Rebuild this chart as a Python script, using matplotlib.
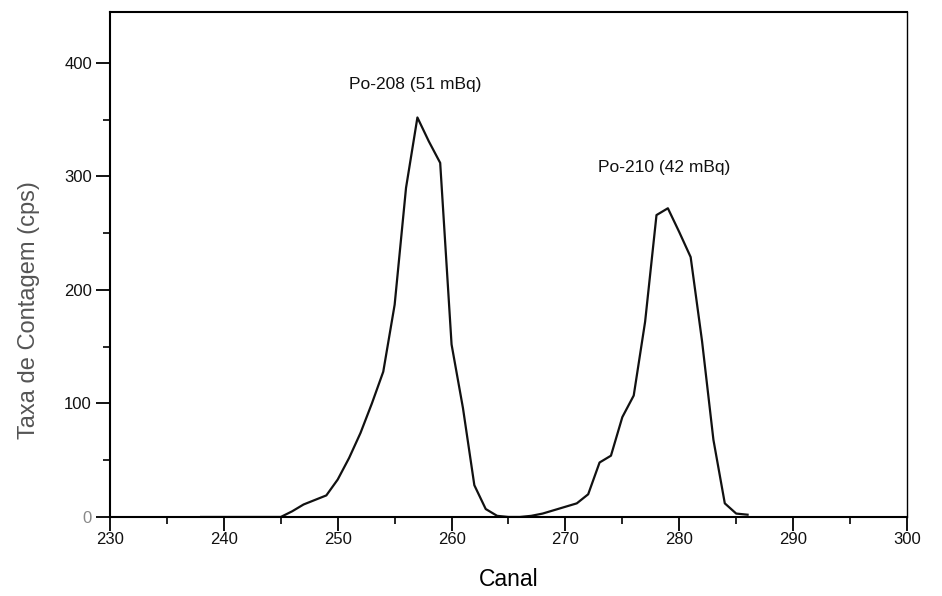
import numpy as np
import matplotlib.pyplot as plt
from matplotlib.ticker import MultipleLocator

# Canal vs taxa de contagem (cps), leitura aproximada do espectro
canal = [238, 239, 240, 241, 242, 243, 244, 245, 246, 247, 248, 249, 250,
         251, 252, 253, 254, 255, 256, 257, 258, 259, 260, 261, 262, 263,
         264, 265, 266, 267, 268, 269, 270, 271, 272, 273, 274, 275, 276,
         277, 278, 279, 280, 281, 282, 283, 284, 285, 286]
contagem = [0, 0, 0, 0, 0, 0, 0, 0, 5, 11, 15, 19, 33,
            52, 74, 100, 128, 187, 290, 352, 331, 312, 152, 96, 28, 7,
            1, 0, 0, 1, 3, 6, 9, 12, 20, 48, 54, 88, 107,
            172, 266, 272, 251, 229, 155, 68, 12, 3, 2]

picos = ['Po-208 (51 mBq)', 'Po-210 (42 mBq)']
picos_x = [256.8, 278.7]
picos_y = [381, 308]

plt.rcParams['font.family'] = ['Liberation Sans', 'DejaVu Sans']

fig = plt.figure(figsize=(9.42, 5.96), dpi=100)
ax = fig.add_axes([0.1168, 0.1326, 0.846, 0.8474])

ax.plot(canal, contagem, color='#111111', lw=1.6)

for txt, x, y in zip(picos, picos_x, picos_y):
    ax.text(x, y, txt, ha='center', va='center', fontsize=12.5, color='#111111')

ax.set_xlim(230, 300)
ax.set_ylim(0, 445)
ax.xaxis.set_major_locator(MultipleLocator(10))
ax.xaxis.set_minor_locator(MultipleLocator(5))
ax.yaxis.set_major_locator(MultipleLocator(100))
ax.yaxis.set_minor_locator(MultipleLocator(50))

ax.tick_params(which='major', direction='out', length=10, width=1.3,
               top=False, right=False)
ax.tick_params(which='minor', direction='out', length=5, width=1.2,
               top=False, right=False)
ax.tick_params(axis='x', which='major', pad=1)
ax.tick_params(axis='y', which='major', pad=3)

for lab in ax.get_xticklabels() + ax.get_yticklabels():
    lab.set_fontsize(12)
    lab.set_color('#111111')
for lab in ax.get_yticklabels()[:2]:
    lab.set_color('#888888')

for s in ['left', 'bottom', 'top']:
    ax.spines[s].set_linewidth(1.5)
ax.spines['right'].set_linewidth(1.0)

ax.set_xlabel('Canal', fontsize=16.5, labelpad=15)
ax.set_ylabel('Taxa de Contagem (cps)', fontsize=17, color='#555555')
ax.yaxis.set_label_coords(-0.088, 0.41)

fig.savefig('out.png', dpi=100)
